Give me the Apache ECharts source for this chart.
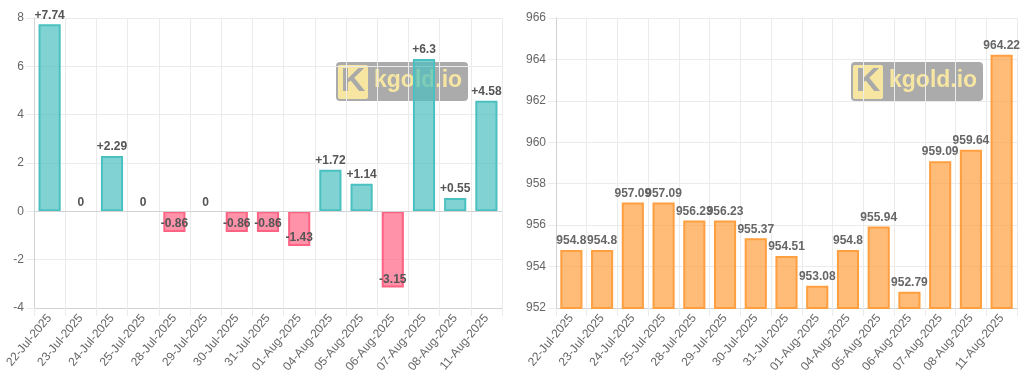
<!DOCTYPE html>
<html><head><meta charset="utf-8">
<script src="https://cdn.jsdelivr.net/npm/echarts@6/dist/echarts.min.js"></script>
<style>html,body{margin:0;padding:0;background:#fff}#c{width:1024px;height:385px}</style>
</head><body><div id="c"></div>
<script>
const dates = ['22-Jul-2025','23-Jul-2025','24-Jul-2025','25-Jul-2025','28-Jul-2025','29-Jul-2025','30-Jul-2025','31-Jul-2025','01-Aug-2025','04-Aug-2025','05-Aug-2025','06-Aug-2025','07-Aug-2025','08-Aug-2025','11-Aug-2025'];
const changes = [7.74,0,2.29,0,-0.86,0,-0.86,-0.86,-1.43,1.72,1.14,-3.15,6.3,0.55,4.58];
const prices = [954.8,954.8,957.09,957.09,956.23,956.23,955.37,954.51,953.08,954.8,955.94,952.79,959.09,959.64,964.22];
const leftTicks = {min:-4, max:8, interval:2};
const rightTicks = {min:952, max:966, interval:2};

const FONT = '"Liberation Sans", Arial, sans-serif';
const gridColor = '#ebebeb';
const axisColor = '#d2d2d2';

function xAxis(gi){
  return {
    type:'category', gridIndex:gi, data:dates, boundaryGap:true,
    axisLine:{show:true, onZero:false, lineStyle:{color:axisColor}},
    axisTick:{show:true, length:8, alignWithLabel:false, lineStyle:{color:gridColor}},
    splitLine:{show:true, lineStyle:{color:gridColor}},
    axisLabel:{rotate:50, color:'#666', fontSize:12, fontFamily:FONT, margin:8, interval:0}
  };
}
function yAxis(gi, t){
  return {
    type:'value', gridIndex:gi, min:t.min, max:t.max, interval:t.interval,
    axisLine:{show:true, lineStyle:{color:axisColor}},
    axisTick:{show:true, length:8, lineStyle:{color:gridColor}},
    splitLine:{show:true, lineStyle:{color:gridColor}},
    axisLabel:{color:'#666', fontSize:12, fontFamily:FONT, margin:10}
  };
}

const changeData = changes.map(v => {
  const neg = v < 0;
  const item = {
    value: v,
    itemStyle: neg ? {color:'rgba(255,99,132,0.7)', borderColor:'rgb(255,99,132)', borderWidth:2}
                   : {color:'rgba(75,192,192,0.7)', borderColor:'rgb(75,192,192)', borderWidth: v === 0 ? 0 : 2},
    label: {position: neg ? 'insideBottom' : 'top', distance: neg ? 2 : 3}
  };
  return item;
});

function watermark(x, y){
  return {
    type:'group', x:x, y:y, z:1,
    children:[
      {type:'rect', shape:{x:0,y:0,width:132,height:39,r:4}, style:{fill:'rgba(128,128,128,0.66)'}},
      {type:'rect', shape:{x:2,y:3,width:30,height:34,r:2}, style:{fill:'#f7e6a2'}},
      {type:'text', x:17, y:20, style:{text:'K', fill:'#a9a9a9', font:'bold 34px ' + FONT, align:'center', verticalAlign:'middle'}},
      {type:'text', x:38, y:19, style:{text:'kgold.io', fill:'#f7e6a2', font:'bold 23px ' + FONT, verticalAlign:'middle'}}
    ]
  };
}

const chart = echarts.init(document.getElementById('c'), null, {renderer:'canvas'});
chart.setOption({
  animation:false,
  backgroundColor:'#fff',
  textStyle:{fontFamily:FONT},
  grid:[
    {left:34, right:522, top:18, bottom:77},
    {left:556, right:7, top:18, bottom:77}
  ],
  xAxis:[xAxis(0), xAxis(1)],
  yAxis:[yAxis(0, leftTicks), yAxis(1, rightTicks)],
  graphic: [watermark(336, 62), watermark(851, 62)],
  series:[
    {
      type:'bar', xAxisIndex:0, yAxisIndex:0, data:changeData, barCategoryGap:'29%',
      label:{show:true, color:'#555', fontWeight:'bold', fontSize:12, fontFamily:FONT,
        formatter: p => p.value > 0 ? '+' + p.value : String(p.value)},
      markLine:{silent:true, symbol:'none', label:{show:false}, lineStyle:{color:axisColor, type:'solid', width:1},
        data:[{yAxis:0}]}
    },
    {
      type:'bar', xAxisIndex:1, yAxisIndex:1, data:prices, barCategoryGap:'28%',
      itemStyle:{color:'rgba(255,159,64,0.7)', borderColor:'rgb(255,159,64)', borderWidth:2},
      label:{show:true, position:'top', distance:3, color:'#666', fontWeight:'bold', fontSize:12, fontFamily:FONT}
    }
  ]
});
</script>
</body></html>
